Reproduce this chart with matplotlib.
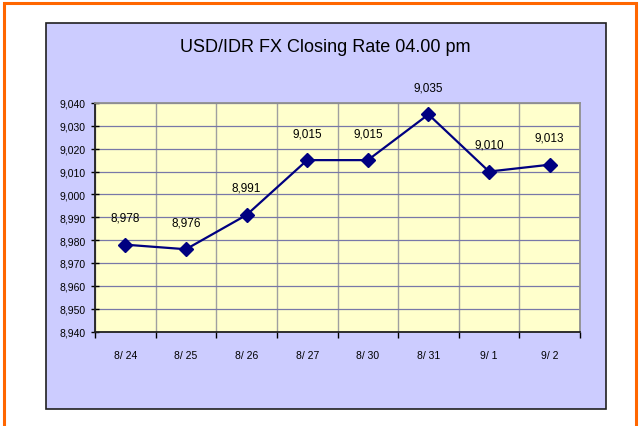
import matplotlib.pyplot as plt
from matplotlib.patches import Rectangle
from matplotlib.ticker import FuncFormatter, FixedLocator

plt.rcParams['font.family'] = ['Liberation Sans', 'DejaVu Sans']

dates = ['8/ 24', '8/ 25', '8/ 26', '8/ 27', '8/ 30', '8/ 31', '9/ 1', '9/ 2']
rates = [8978, 8976, 8991, 9015, 9015, 9035, 9010, 9013]
y_ticks = list(range(8940, 9041, 10))

fig = plt.figure(figsize=(6.4, 4.27), dpi=100)
W, H = 640, 427

# orange outer frame and lavender chart area
fig.patches.append(Rectangle((4 / W, -0.05), 632 / W, 1.05 - 4 / H, transform=fig.transFigure,
                             facecolor='white', edgecolor='#FF6600', linewidth=2.2, zorder=0))
fig.patches.append(Rectangle((46 / W, 1 - 410 / H), 560 / W, 386 / H, transform=fig.transFigure,
                             facecolor='#CCCCFF', edgecolor='#202020', linewidth=1.2, zorder=1))

ax = fig.add_axes([95 / W, 1 - 332.5 / H, 485 / W, 228.5 / H])
ax.set_zorder(5)
ax.set_facecolor('#FFFFCC')
x = list(range(len(dates)))
ax.plot(x, rates, color='#000080', linewidth=1.6, marker='D', markersize=7.5, zorder=3)
for xi, v in zip(x, rates):
    ax.annotate(f'{v:,}', (xi, v), xytext=(0, 19.5), textcoords='offset points',
                ha='center', va='center', fontsize=8.5, color='black', annotation_clip=False)

ax.set_xlim(-0.5, len(dates) - 0.5)
ax.set_ylim(8940, 9040)
ax.set_yticks(y_ticks)
ax.yaxis.set_major_formatter(FuncFormatter(lambda v, p: f'{int(v):,}'))
ax.set_xticks(x)
ax.set_xticklabels(dates)
ax.xaxis.set_minor_locator(FixedLocator([i - 0.5 for i in range(len(dates) + 1)]))

ax.grid(axis='y', which='major', color='#7878A8', linewidth=0.9)
ax.grid(axis='x', which='minor', color='#A0A0A0', linewidth=1.0)
ax.set_axisbelow(True)

ax.tick_params(axis='y', direction='inout', length=6, width=1, labelsize=7.5, pad=4)
ax.tick_params(axis='x', which='major', length=0, labelsize=7.5, pad=13)
ax.tick_params(axis='x', which='minor', direction='out', length=4, width=1)

for s in ['left', 'bottom']:
    ax.spines[s].set_color('#202020')
    ax.spines[s].set_linewidth(1.3)
for s in ['top', 'right']:
    ax.spines[s].set_color('#909090')
    ax.spines[s].set_linewidth(1.3)

fig.text(325 / W, 1 - 47 / H, 'USD/IDR FX Closing Rate 04.00 pm', ha='center', va='center',
         fontsize=13, color='black', zorder=6)

fig.savefig('out.png', dpi=100)
